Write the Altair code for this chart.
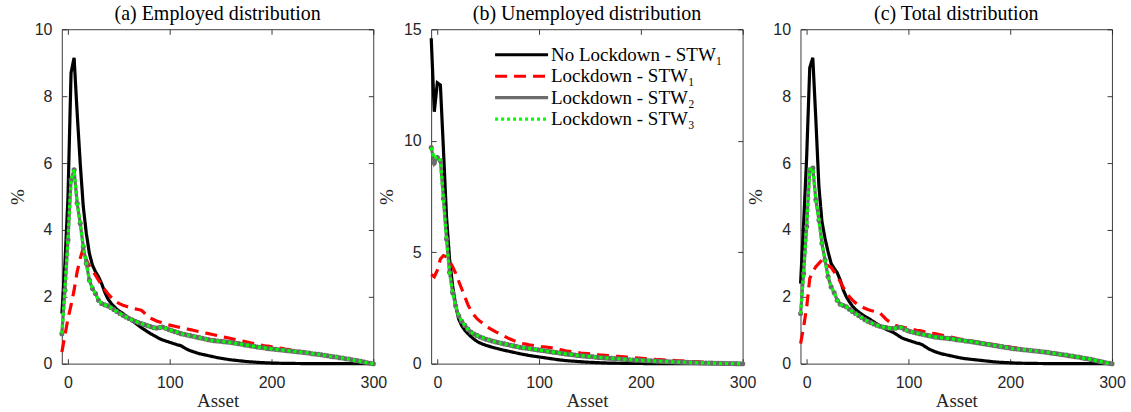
import altair as alt
import pandas as pd

# Asset grid shared by every series
asset = [-6 + 3 * i for i in range(103)]

SERIES = ["No Lockdown - STW₁", "Lockdown - STW₁", "Lockdown - STW₂", "Lockdown - STW₃"]
COLORS = ["#000000", "#ff0000", "#6b6b6b", "#00ff00"]
DASHES = [[1, 0], [12, 7], [1, 0], [3, 3]]
WIDTHS = [3.2, 3.2, 1.4, 3.2]

# ---------------- (a) Employed distribution ----------------
emp_nolock_stw1 = [
    1.5, 3.0, 5.0, 8.7, 9.15, 7.5, 6.0, 4.7, 3.9, 3.3,
    2.95, 2.75, 2.6, 2.4, 2.15, 1.95, 1.82, 1.72, 1.63, 1.56,
    1.5, 1.43, 1.36, 1.29, 1.22, 1.15, 1.08, 1.02, 0.96, 0.9,
    0.85, 0.8, 0.75, 0.71, 0.68, 0.65, 0.62, 0.59, 0.56, 0.54,
    0.48, 0.43, 0.39, 0.36, 0.33, 0.3, 0.28, 0.26, 0.24, 0.22,
    0.2, 0.18, 0.165, 0.15, 0.135, 0.12, 0.11, 0.1, 0.09, 0.08,
    0.07, 0.062, 0.055, 0.048, 0.042, 0.036, 0.031, 0.027, 0.023, 0.02,
    0.017, 0.015, 0.013, 0.011, 0.01, 0.009, 0.008, 0.007, 0.006, 0.005,
    0.005, 0.004, 0.004, 0.003, 0.003, 0.003, 0.002, 0.002, 0.002, 0.002,
    0.001, 0.001, 0.001, 0.001, 0.001, 0.001, 0.001, 0.001, 0.001, 0.001,
    0.001, 0.0, 0.0,
]
emp_lock_stw1 = [
    0.35, 0.85, 1.35, 1.75, 2.2, 2.75, 3.15, 3.45, 3.1, 2.92,
    2.78, 2.65, 2.5, 2.35, 2.22, 2.1, 2.0, 1.9, 1.84, 1.79,
    1.75, 1.72, 1.69, 1.66, 1.64, 1.62, 1.6, 1.52, 1.42, 1.36,
    1.32, 1.28, 1.25, 1.22, 1.19, 1.16, 1.14, 1.12, 1.1, 1.08,
    1.06, 1.04, 1.02, 1.0, 0.98, 0.96, 0.94, 0.92, 0.9, 0.88,
    0.86, 0.84, 0.82, 0.8, 0.78, 0.76, 0.74, 0.72, 0.7, 0.68,
    0.66, 0.64, 0.62, 0.6, 0.58, 0.56, 0.54, 0.53, 0.52, 0.5,
    0.49, 0.47, 0.46, 0.44, 0.43, 0.41, 0.4, 0.38, 0.37, 0.35,
    0.34, 0.32, 0.31, 0.29, 0.28, 0.26, 0.25, 0.23, 0.22, 0.2,
    0.19, 0.17, 0.16, 0.14, 0.13, 0.11, 0.1, 0.08, 0.06, 0.05,
    0.03, 0.015, 0.0,
]
emp_lock_stw2 = [
    0.9, 2.2, 3.7, 5.5, 5.8, 4.8, 4.2, 3.5, 3.0, 2.5,
    2.25, 2.1, 1.9, 1.8, 1.76, 1.73, 1.68, 1.62, 1.56, 1.5,
    1.45, 1.4, 1.35, 1.31, 1.27, 1.23, 1.2, 1.17, 1.14, 1.11,
    1.08, 1.07, 1.08, 1.1, 1.06, 1.02, 0.99, 0.96, 0.93, 0.9,
    0.88, 0.86, 0.84, 0.82, 0.8, 0.78, 0.76, 0.74, 0.72, 0.7,
    0.69, 0.68, 0.67, 0.66, 0.65, 0.64, 0.63, 0.61, 0.6, 0.58,
    0.56, 0.55, 0.53, 0.52, 0.5, 0.49, 0.48, 0.46, 0.45, 0.44,
    0.43, 0.42, 0.41, 0.4, 0.39, 0.38, 0.37, 0.36, 0.35, 0.34,
    0.33, 0.32, 0.3, 0.29, 0.28, 0.27, 0.25, 0.24, 0.22, 0.21,
    0.2, 0.18, 0.17, 0.15, 0.14, 0.12, 0.1, 0.09, 0.07, 0.05,
    0.03, 0.015, 0.0,
]
emp_lock_stw3 = [
    0.9, 2.25, 3.75, 5.5, 5.8, 4.8, 4.2, 3.5, 3.0, 2.5,
    2.25, 2.1, 1.9, 1.8, 1.76, 1.73, 1.68, 1.62, 1.56, 1.5,
    1.45, 1.4, 1.35, 1.31, 1.27, 1.23, 1.2, 1.17, 1.14, 1.11,
    1.08, 1.07, 1.08, 1.1, 1.06, 1.02, 0.99, 0.96, 0.93, 0.9,
    0.88, 0.86, 0.84, 0.82, 0.8, 0.78, 0.76, 0.74, 0.72, 0.7,
    0.69, 0.68, 0.67, 0.66, 0.65, 0.64, 0.63, 0.61, 0.6, 0.58,
    0.56, 0.55, 0.53, 0.52, 0.5, 0.49, 0.48, 0.46, 0.45, 0.44,
    0.43, 0.42, 0.41, 0.4, 0.39, 0.38, 0.37, 0.36, 0.35, 0.34,
    0.33, 0.32, 0.3, 0.29, 0.28, 0.27, 0.25, 0.24, 0.22, 0.21,
    0.2, 0.18, 0.17, 0.15, 0.14, 0.12, 0.1, 0.09, 0.07, 0.05,
    0.03, 0.015, 0.0,
]

# ---------------- (b) Unemployed distribution ----------------
unemp_nolock_stw1 = [
    14.6, 11.3, 12.6, 12.5, 9.6, 6.6, 4.7, 3.5, 2.6, 2.0,
    1.7, 1.5, 1.35, 1.22, 1.1, 1.0, 0.93, 0.87, 0.82, 0.78,
    0.74, 0.7, 0.67, 0.63, 0.6, 0.57, 0.54, 0.51, 0.48, 0.45,
    0.42, 0.4, 0.37, 0.35, 0.33, 0.31, 0.29, 0.27, 0.25, 0.23,
    0.21, 0.19, 0.17, 0.16, 0.14, 0.13, 0.12, 0.11, 0.1, 0.09,
    0.08, 0.07, 0.065, 0.06, 0.05, 0.045, 0.04, 0.035, 0.03, 0.028,
    0.025, 0.022, 0.02, 0.018, 0.016, 0.014, 0.012, 0.011, 0.01, 0.009,
    0.008, 0.007, 0.006, 0.005, 0.005, 0.004, 0.004, 0.003, 0.003, 0.003,
    0.002, 0.002, 0.002, 0.002, 0.002, 0.002, 0.002, 0.002, 0.002, 0.002,
    0.001, 0.001, 0.001, 0.001, 0.001, 0.001, 0.001, 0.001, 0.001, 0.001,
    0.001, 0.0, 0.0,
]
unemp_lock_stw1 = [
    4.0, 3.9, 4.2, 4.7, 4.85, 4.8, 4.6, 4.35, 4.05, 3.7,
    3.35, 3.0, 2.65, 2.38, 2.18, 2.02, 1.9, 1.8, 1.7, 1.6,
    1.52, 1.44, 1.37, 1.3, 1.23, 1.16, 1.1, 1.04, 0.99, 0.95,
    0.91, 0.88, 0.85, 0.83, 0.81, 0.79, 0.77, 0.76, 0.74, 0.72,
    0.7, 0.67, 0.64, 0.61, 0.58, 0.56, 0.54, 0.52, 0.5, 0.48,
    0.47, 0.46, 0.44, 0.43, 0.42, 0.4, 0.39, 0.38, 0.36, 0.35,
    0.34, 0.33, 0.32, 0.31, 0.3, 0.28, 0.27, 0.26, 0.25, 0.24,
    0.23, 0.22, 0.21, 0.2, 0.19, 0.18, 0.17, 0.16, 0.155, 0.15,
    0.14, 0.13, 0.125, 0.12, 0.11, 0.1, 0.095, 0.09, 0.08, 0.075,
    0.07, 0.06, 0.055, 0.05, 0.04, 0.035, 0.03, 0.02, 0.015, 0.01,
    0.006, 0.003, 0.0,
]
unemp_lock_stw2 = [
    9.7, 9.0, 9.25, 9.1, 7.4, 5.6, 4.1, 3.2, 2.6, 2.15,
    1.9, 1.72, 1.55, 1.42, 1.33, 1.27, 1.2, 1.15, 1.1, 1.06,
    1.02, 0.98, 0.95, 0.92, 0.89, 0.86, 0.83, 0.8, 0.77, 0.74,
    0.72, 0.7, 0.68, 0.66, 0.64, 0.62, 0.6, 0.58, 0.56, 0.54,
    0.52, 0.5, 0.48, 0.46, 0.44, 0.42, 0.41, 0.39, 0.37, 0.36,
    0.35, 0.33, 0.32, 0.31, 0.29, 0.28, 0.27, 0.26, 0.25, 0.24,
    0.23, 0.22, 0.21, 0.2, 0.19, 0.18, 0.17, 0.16, 0.16, 0.15,
    0.14, 0.135, 0.13, 0.12, 0.115, 0.11, 0.1, 0.095, 0.09, 0.085,
    0.08, 0.075, 0.07, 0.065, 0.06, 0.055, 0.05, 0.045, 0.04, 0.035,
    0.032, 0.028, 0.025, 0.022, 0.019, 0.016, 0.013, 0.01, 0.008, 0.006,
    0.004, 0.002, 0.0,
]
unemp_lock_stw3 = [
    9.7, 9.2, 9.3, 9.1, 7.4, 5.6, 4.1, 3.2, 2.6, 2.15,
    1.9, 1.72, 1.55, 1.42, 1.33, 1.27, 1.2, 1.15, 1.1, 1.06,
    1.02, 0.98, 0.95, 0.92, 0.89, 0.86, 0.83, 0.8, 0.77, 0.74,
    0.72, 0.7, 0.68, 0.66, 0.64, 0.62, 0.6, 0.58, 0.56, 0.54,
    0.52, 0.5, 0.48, 0.46, 0.44, 0.42, 0.41, 0.39, 0.37, 0.36,
    0.35, 0.33, 0.32, 0.31, 0.29, 0.28, 0.27, 0.26, 0.25, 0.24,
    0.23, 0.22, 0.21, 0.2, 0.19, 0.18, 0.17, 0.16, 0.16, 0.15,
    0.14, 0.135, 0.13, 0.12, 0.115, 0.11, 0.1, 0.095, 0.09, 0.085,
    0.08, 0.075, 0.07, 0.065, 0.06, 0.055, 0.05, 0.045, 0.04, 0.035,
    0.032, 0.028, 0.025, 0.022, 0.019, 0.016, 0.013, 0.01, 0.008, 0.006,
    0.004, 0.002, 0.0,
]

# ---------------- (c) Total distribution ----------------
tot_nolock_stw1 = [
    2.4, 4.2, 6.2, 8.85, 9.15, 7.3, 5.3, 4.25, 3.75, 3.35,
    3.0, 2.85, 2.72, 2.5, 2.2, 2.0, 1.85, 1.72, 1.62, 1.55,
    1.48, 1.42, 1.37, 1.31, 1.25, 1.19, 1.13, 1.08, 1.03, 0.99,
    0.95, 0.9, 0.84, 0.78, 0.74, 0.71, 0.68, 0.65, 0.62, 0.6,
    0.56, 0.5, 0.44, 0.4, 0.36, 0.33, 0.3, 0.28, 0.26, 0.24,
    0.22, 0.2, 0.18, 0.165, 0.15, 0.14, 0.13, 0.12, 0.11, 0.1,
    0.09, 0.08, 0.07, 0.06, 0.052, 0.045, 0.04, 0.035, 0.03, 0.026,
    0.022, 0.019, 0.016, 0.014, 0.012, 0.01, 0.009, 0.008, 0.007, 0.006,
    0.005, 0.005, 0.004, 0.004, 0.003, 0.003, 0.003, 0.002, 0.002, 0.002,
    0.001, 0.001, 0.001, 0.001, 0.001, 0.001, 0.001, 0.001, 0.001, 0.001,
    0.001, 0.0, 0.0,
]
tot_lock_stw1 = [
    0.6, 1.1, 1.7, 2.55, 2.75, 2.9, 3.0, 3.1, 3.0, 2.93,
    2.88, 2.75, 2.62, 2.45, 2.28, 2.12, 2.0, 1.9, 1.82, 1.76,
    1.7, 1.66, 1.62, 1.59, 1.57, 1.55, 1.52, 1.42, 1.33, 1.26,
    1.2, 1.15, 1.12, 1.1, 1.08, 1.06, 1.04, 1.02, 1.0, 0.99,
    0.97, 0.95, 0.93, 0.91, 0.9, 0.88, 0.86, 0.84, 0.82, 0.8,
    0.78, 0.76, 0.74, 0.72, 0.7, 0.69, 0.68, 0.66, 0.65, 0.63,
    0.62, 0.61, 0.59, 0.58, 0.56, 0.55, 0.53, 0.52, 0.51, 0.49,
    0.48, 0.46, 0.45, 0.43, 0.42, 0.4, 0.39, 0.38, 0.37, 0.35,
    0.34, 0.32, 0.31, 0.29, 0.28, 0.26, 0.25, 0.24, 0.22, 0.21,
    0.19, 0.18, 0.16, 0.15, 0.13, 0.12, 0.1, 0.08, 0.06, 0.05,
    0.03, 0.015, 0.0,
]
tot_lock_stw2 = [
    1.5, 2.7, 4.1, 5.8, 5.85, 4.9, 4.3, 3.6, 3.1, 2.6,
    2.3, 2.12, 1.9, 1.78, 1.74, 1.7, 1.63, 1.56, 1.5, 1.44,
    1.38, 1.32, 1.27, 1.23, 1.19, 1.15, 1.12, 1.1, 1.08, 1.06,
    1.05, 1.06, 1.09, 1.08, 1.03, 0.99, 0.96, 0.94, 0.92, 0.9,
    0.88, 0.86, 0.84, 0.82, 0.8, 0.79, 0.78, 0.77, 0.76, 0.75,
    0.74, 0.72, 0.71, 0.7, 0.68, 0.67, 0.66, 0.64, 0.63, 0.61,
    0.6, 0.58, 0.57, 0.55, 0.54, 0.52, 0.51, 0.49, 0.48, 0.46,
    0.45, 0.44, 0.43, 0.42, 0.41, 0.4, 0.39, 0.38, 0.37, 0.36,
    0.35, 0.34, 0.32, 0.31, 0.3, 0.28, 0.27, 0.26, 0.24, 0.23,
    0.21, 0.2, 0.18, 0.16, 0.15, 0.13, 0.11, 0.09, 0.07, 0.05,
    0.03, 0.015, 0.0,
]
tot_lock_stw3 = [
    1.5, 2.75, 4.15, 5.8, 5.85, 4.9, 4.3, 3.6, 3.1, 2.6,
    2.3, 2.12, 1.9, 1.78, 1.74, 1.7, 1.63, 1.56, 1.5, 1.44,
    1.38, 1.32, 1.27, 1.23, 1.19, 1.15, 1.12, 1.1, 1.08, 1.06,
    1.05, 1.06, 1.09, 1.08, 1.03, 0.99, 0.96, 0.94, 0.92, 0.9,
    0.88, 0.86, 0.84, 0.82, 0.8, 0.79, 0.78, 0.77, 0.76, 0.75,
    0.74, 0.72, 0.71, 0.7, 0.68, 0.67, 0.66, 0.64, 0.63, 0.61,
    0.6, 0.58, 0.57, 0.55, 0.54, 0.52, 0.51, 0.49, 0.48, 0.46,
    0.45, 0.44, 0.43, 0.42, 0.41, 0.4, 0.39, 0.38, 0.37, 0.36,
    0.35, 0.34, 0.32, 0.31, 0.3, 0.28, 0.27, 0.26, 0.24, 0.23,
    0.21, 0.2, 0.18, 0.16, 0.15, 0.13, 0.11, 0.09, 0.07, 0.05,
    0.03, 0.015, 0.0,
]


def long_frame(*columns):
    rows = []
    for name, values in zip(SERIES, columns):
        assert len(values) == len(asset), name
        for a, v in zip(asset, values):
            rows.append({"asset": a, "pct": v, "series": name})
    return pd.DataFrame(rows)


# Inward-pointing ticks: shift each axis 5px inside the frame, ticks reach back out to it
TICK = dict(offset=-5, tickSize=5, domain=False, grid=False, tickColor="#262626",
            tickWidth=0.9, labelFlush=False)


def panel(df, title, ymax, yticks, legend):
    xscale = alt.Scale(domain=[-6, 300], nice=False, zero=False)
    yscale = alt.Scale(domain=[0, ymax], nice=False)
    color = alt.Color("series:N", scale=alt.Scale(domain=SERIES, range=COLORS), legend=legend)
    dash = alt.StrokeDash("series:N", scale=alt.Scale(domain=SERIES, range=DASHES), legend=legend)
    width = alt.StrokeWidth("series:N", scale=alt.Scale(domain=SERIES, range=WIDTHS), legend=legend)

    bottom = alt.Axis(orient="bottom", values=[0, 100, 200, 300], title="Asset",
                      labelPadding=11, titlePadding=1, **TICK)
    left = alt.Axis(orient="left", values=yticks, title="%", labelPadding=10,
                    titlePadding=7, **TICK)
    top = alt.Axis(orient="top", values=[0, 100, 200, 300], labels=False, title=None, **TICK)
    right = alt.Axis(orient="right", values=yticks, labels=False, title=None, **TICK)

    def line(name, xaxis=None, yaxis=None):
        return (
            alt.Chart(df)
            .transform_filter(alt.datum.series == name)
            .mark_line()
            .encode(
                x=alt.X("asset:Q", scale=xscale, axis=xaxis),
                y=alt.Y("pct:Q", scale=yscale, axis=yaxis),
                color=color,
                strokeDash=dash,
                strokeWidth=width,
            )
        )

    markers = (
        alt.Chart(df)
        .transform_filter(alt.datum.series == SERIES[2])
        .mark_circle(size=26, color="#6b6b6b", opacity=1)
        .encode(
            x=alt.X("asset:Q", scale=xscale, axis=None),
            y=alt.Y("pct:Q", scale=yscale, axis=None),
        )
    )

    return (
        alt.layer(
            line(SERIES[0], bottom, left),
            line(SERIES[1], top, right),
            line(SERIES[2]),
            markers,
            line(SERIES[3]),
        )
        .resolve_axis(x="independent", y="independent")
        .properties(width=312, height=335, title=title)
    )


# Legend swatches: a long horizontal stroke path, kept short in legend layout height
legend_b = alt.Legend(
    orient="none", legendX=81, legendY=16, title=None, symbolType="M-4,0H4",
    symbolSize=176, labelFont="Liberation Serif", labelFontSize=19,
    labelColor="#000000", labelOffset=20, rowPadding=1.5, padding=0, labelLimit=0,
)

chart_a = panel(long_frame(emp_nolock_stw1, emp_lock_stw1, emp_lock_stw2, emp_lock_stw3),
                "(a) Employed distribution", 10, [0, 2, 4, 6, 8, 10], None)
chart_b = panel(long_frame(unemp_nolock_stw1, unemp_lock_stw1, unemp_lock_stw2, unemp_lock_stw3),
                "(b) Unemployed distribution", 15, [0, 5, 10, 15], legend_b)
chart_c = panel(long_frame(tot_nolock_stw1, tot_lock_stw1, tot_lock_stw2, tot_lock_stw3),
                "(c) Total distribution", 10, [0, 2, 4, 6, 8, 10], None)

chart = (
    alt.hconcat(chart_a, chart_b, chart_c, spacing=58, bounds="flush")
    .resolve_scale(color="independent", strokeDash="independent", strokeWidth="independent")
    .resolve_legend(color="independent", strokeDash="independent", strokeWidth="independent")
    .properties(padding={"left": 7, "top": 3, "right": 5, "bottom": 2}, background="white")
    .configure_view(stroke="#262626", strokeWidth=0.9)
    .configure_axis(
        labelFont="Liberation Sans", labelFontSize=16, labelColor="#262626",
        titleFont="Liberation Serif", titleFontSize=19, titleFontWeight="normal",
        titleColor="#262626",
    )
    .configure_title(font="Liberation Serif", fontSize=20, fontWeight="normal",
                     color="#000000", offset=-3, anchor="middle")
)

chart.save("out.html", embed_options={"renderer": "svg", "actions": False})
